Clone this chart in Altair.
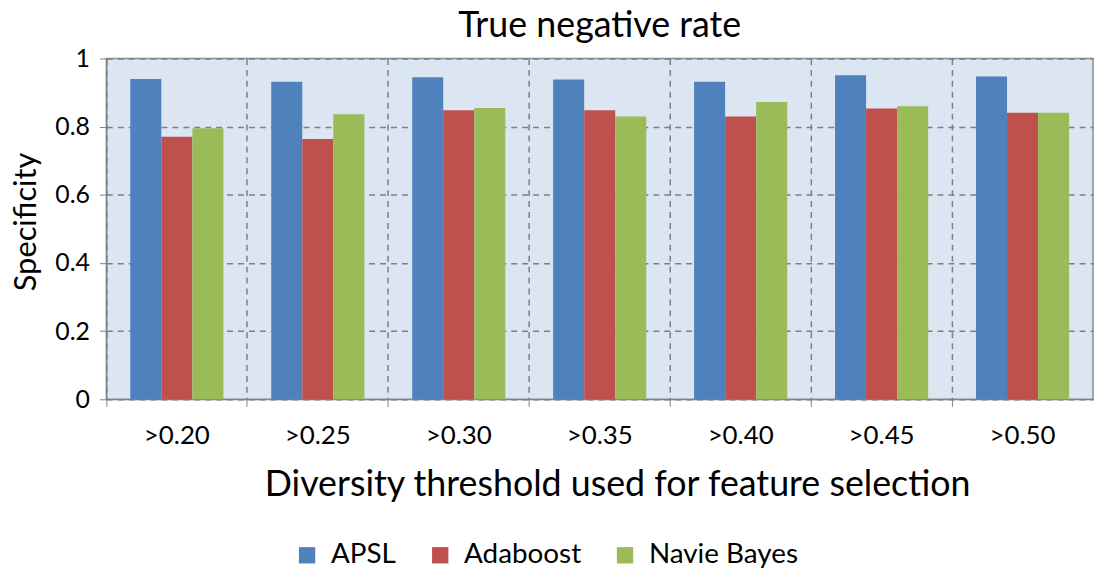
import altair as alt
import pandas as pd

thresholds = [">0.20", ">0.25", ">0.30", ">0.35", ">0.40", ">0.45", ">0.50"]
series = ["APSL", "Adaboost", "Navie Bayes"]
apsl = [0.940, 0.932, 0.945, 0.938, 0.932, 0.951, 0.947]
adaboost = [0.770, 0.764, 0.848, 0.848, 0.830, 0.853, 0.841]
naive_bayes = [0.795, 0.836, 0.855, 0.830, 0.872, 0.860, 0.841]
colors = ["#4F81BD", "#C0504D", "#9BBB59"]

rows = []
for name, vals in zip(series, [apsl, adaboost, naive_bayes]):
    for t, v in zip(thresholds, vals):
        rows.append({"threshold": t, "method": name, "value": v})
df = pd.DataFrame(rows)

FONT = "Lato"
W, H = 993, 343

chart = alt.Chart(df).mark_bar(strokeWidth=1).encode(
    x=alt.X("threshold:N", sort=thresholds,
            scale=alt.Scale(paddingInner=0, paddingOuter=0),
            axis=alt.Axis(title="Diversity threshold used for feature selection",
                          labelAngle=0, bandPosition=0,
                          grid=True, gridDash=[6, 5], gridColor="#7F7F7F", gridWidth=1.5,
                          domainColor="#7F7F7F", tickColor="#7F7F7F", tickSize=7,
                          labelFontSize=26, labelColor="#000000", labelFont=FONT,
                          labelPadding=16,
                          titleFontSize=36, titleFont=FONT, titleFontWeight="normal",
                          titleColor="#000000", titlePadding=20, titleX=514)),
    xOffset=alt.XOffset("method:N", sort=series,
                        scale=alt.Scale(paddingInner=0, paddingOuter=0.77)),
    y=alt.Y("value:Q", scale=alt.Scale(domain=[0, 1], nice=False),
            axis=alt.Axis(title="Specificity", values=[0, 0.2, 0.4, 0.6, 0.8, 1.0],
                          format=".1~f",
                          grid=True, gridDash=[6, 5], gridColor="#7F7F7F", gridWidth=1.5,
                          domainColor="#7F7F7F", tickColor="#7F7F7F", tickSize=7,
                          labelFontSize=25, labelColor="#000000", labelFont=FONT,
                          labelPadding=10,
                          titleFontSize=31, titleFont=FONT, titleFontWeight="normal",
                          titleColor="#000000", titlePadding=12, titleY=164)),
    color=alt.Color("method:N", sort=series,
                    scale=alt.Scale(domain=series, range=colors),
                    legend=alt.Legend(title=None, orient="none", direction="horizontal",
                                      legendX=188, legendY=486,
                                      symbolType="square", symbolSize=270,
                                      symbolStrokeWidth=0,
                                      labelFontSize=28, labelFont=FONT,
                                      labelColor="#000000", columnPadding=30,
                                      labelOffset=10)),
).properties(
    width=W, height=H,
    title=alt.TitleParams("True negative rate", fontSize=36, font=FONT,
                          fontWeight="normal", color="#000000", offset=2),
    autosize=alt.AutoSizeParams(type="none"),
    padding={"left": 99, "top": 49, "right": 4, "bottom": 170},
    background="white",
).configure_view(
    fill="#DCE6F2", stroke="#8C8C8C", strokeWidth=1.5
)

chart.save("out.html", embed_options={"renderer": "svg", "actions": False})
